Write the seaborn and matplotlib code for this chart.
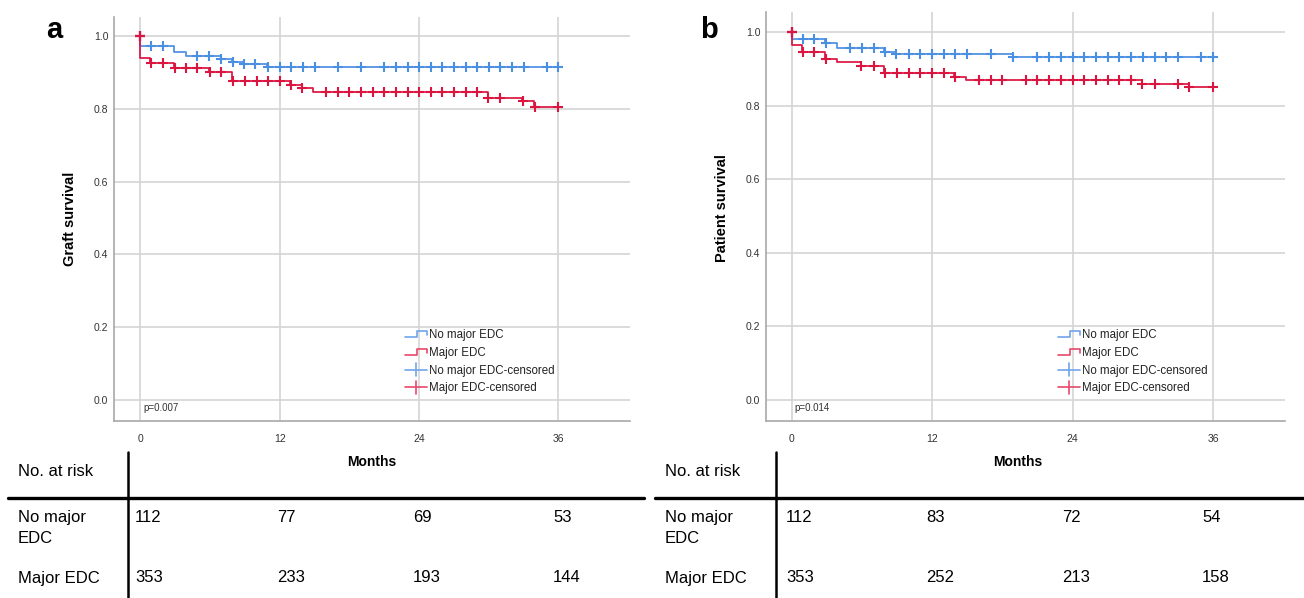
import numpy as np
import pandas as pd
import matplotlib
matplotlib.use("Agg")
import matplotlib.pyplot as plt
from matplotlib.lines import Line2D
from matplotlib.legend_handler import HandlerBase
import seaborn as sns

# ---------------- data ----------------
month_ticks = [0, 12, 24, 36]
surv_ticks = [0.0, 0.2, 0.4, 0.6, 0.8, 1.0]
group_labels = ["No major EDC", "Major EDC"]

# Graft survival (panel a): event times (months) and survival after each step
graft_nomajor_t = [0, 2.9, 3.9, 6.9, 7.9, 8.9, 10.9]
graft_nomajor_s = [0.973, 0.955, 0.945, 0.937, 0.928, 0.922, 0.916]
graft_nomajor_cens = [0.9, 1.9, 4.9, 5.9, 6.95, 7.95, 8.95, 9.9, 11, 12, 13, 14, 15,
                      17, 19, 21, 22, 23, 24, 25, 26, 27, 28, 29, 30, 31, 32, 33, 35, 36]
graft_major_t = [0, 0.85, 2.9, 5.9, 7.9, 12.9, 13.9, 14.9, 29.9, 32.9, 33.9]
graft_major_s = [0.939, 0.925, 0.913, 0.902, 0.877, 0.866, 0.857, 0.847, 0.829, 0.820, 0.805]
graft_major_cens = [0.9, 1.9, 2.95, 3.9, 4.9, 5.95, 6.9, 7.95, 9, 10, 11, 12, 13, 13.95,
                    16, 17, 18, 19, 20, 21, 22, 23, 24, 25, 26, 27, 28, 29, 29.95, 31,
                    32.95, 33.95, 36]

# Patient survival (panel b)
patient_nomajor_t = [0, 2.9, 3.9, 7.9, 8.9, 18.9]
patient_nomajor_s = [0.980, 0.971, 0.955, 0.945, 0.939, 0.932]
patient_nomajor_cens = [0.95, 1.95, 2.95, 5, 6, 7, 7.95, 8.95, 10, 11, 12, 13, 14, 15, 17,
                        18.95, 21, 22, 23, 24, 25, 26, 27, 28, 29, 30, 31, 32, 33, 35, 36]
patient_major_t = [0, 0.9, 2.9, 3.9, 5.9, 7.9, 13.9, 14.9, 29.9, 33.9]
patient_major_s = [0.964, 0.944, 0.927, 0.918, 0.907, 0.888, 0.877, 0.868, 0.859, 0.850]
patient_major_cens = [0.95, 1.95, 2.95, 5.95, 7, 7.95, 9, 10, 11, 12, 13, 13.95, 16, 17, 18,
                      20, 21, 22, 23, 24, 25, 26, 27, 28, 29, 29.95, 31, 33, 33.95, 36]

# Numbers at risk at 0, 12, 24, 36 months
graft_risk_nomajor = [112, 77, 69, 53]
graft_risk_major = [353, 233, 193, 144]
patient_risk_nomajor = [112, 83, 72, 54]
patient_risk_major = [353, 252, 213, 158]

p_graft = "p=0.007"
p_patient = "p=0.014"

# ---------------- style ----------------
sns.set_theme(style="white")
plt.rcParams["font.family"] = ["Liberation Sans", "DejaVu Sans"]
plt.rcParams["text.color"] = "black"

BLUE = "#4b8fe3"
RED = "#dc1440"
BLUE_L = "#6fa5ec"
RED_L = "#e8486a"
GRID = "#d4d4d4"
SPINE = "#a8a8a8"

W, H = 1304, 598
fig = plt.figure(figsize=(W / 100, H / 100), dpi=100)


def fx(px):
    return px / W


def fy(py):
    return 1 - py / H


def step_frame(times, surv, t_end):
    x = [0.0] + list(times) + [t_end]
    y = [1.0] + list(surv) + [surv[-1]]
    return pd.DataFrame({"month": x, "survival": y})


def censor_frame(times, surv, cens):
    t = np.asarray(times)
    s = np.asarray(surv)
    ys = []
    for c in cens:
        i = np.searchsorted(t, c, side="right") - 1
        ys.append(1.0 if i < 0 else s[i])
    return pd.DataFrame({"month": cens, "survival": ys})


class StepHandler(HandlerBase):
    def create_artists(self, legend, orig_handle, xdescent, ydescent,
                       width, height, fontsize, trans):
        x0, x1 = -xdescent, -xdescent + width
        xm = x0 + 0.55 * width
        lo, hi = -ydescent + 0.15 * height, -ydescent + 0.85 * height
        ln = Line2D([x0, xm, xm, x1, x1], [lo, lo, hi, hi, lo + 0.25 * height],
                    color=orig_handle.get_color(), lw=1.2, transform=trans)
        return [ln]


class CrossHandler(HandlerBase):
    def create_artists(self, legend, orig_handle, xdescent, ydescent,
                       width, height, fontsize, trans):
        x0, x1 = -xdescent, -xdescent + width
        xc = (x0 + x1) / 2
        yc = -ydescent + 0.5 * height
        h = Line2D([x0, x1], [yc, yc], color=orig_handle.get_color(), lw=1.2,
                   transform=trans)
        v = Line2D([xc, xc], [yc - 0.75 * height, yc + 0.75 * height],
                   color=orig_handle.get_color(), lw=1.2, transform=trans)
        return [h, v]


def km_panel(rect, xlim, ylim, groups, ylabel, ylabel_pos, pval, legend_anchor):
    ax = fig.add_axes(rect)
    for times, surv, cens, col in groups:
        sns.lineplot(data=step_frame(times, surv, 36), x="month", y="survival",
                     estimator=None, sort=False, drawstyle="steps-post",
                     color=col, lw=1.25, ax=ax, zorder=3)
    for times, surv, cens, col in groups:
        sns.scatterplot(data=censor_frame(times, surv, cens), x="month", y="survival",
                        marker="+", s=45, linewidth=1.5, color=col, ax=ax, zorder=4)
    # starting point of both curves
    for times, surv, cens, col in groups:
        sns.scatterplot(x=[0], y=[1.0], marker="+", s=50, linewidth=1.6,
                        color=col, ax=ax, zorder=5)

    ax.set_xlim(*xlim)
    ax.set_ylim(*ylim)
    ax.set_xticks(month_ticks)
    ax.set_yticks(surv_ticks)
    ax.set_yticklabels([f"{v:.1f}" for v in surv_ticks])
    ax.grid(True, color=GRID, lw=1.2)
    ax.set_axisbelow(True)
    for side in ("top", "right"):
        ax.spines[side].set_visible(False)
    for side in ("left", "bottom"):
        ax.spines[side].set_color(SPINE)
        ax.spines[side].set_linewidth(1.2)
    ax.tick_params(axis="both", length=0, labelsize=7.5, colors="#333333")
    ax.tick_params(axis="y", pad=4)
    ax.tick_params(axis="x", pad=9)
    ax.set_xlabel("")
    ax.set_ylabel(ylabel, fontsize=10.5, fontweight="bold", color="black")
    ax.yaxis.set_label_coords(*ylabel_pos)
    ax.text(0.25, -0.022, pval, fontsize=7, color="#333333", va="center", ha="left")

    handles = [Line2D([], [], color=BLUE_L), Line2D([], [], color=RED_L),
               Line2D([], [], color=BLUE_L, marker="+"),
               Line2D([], [], color=RED_L, marker="+")]
    labels = [group_labels[0], group_labels[1],
              group_labels[0] + "-censored", group_labels[1] + "-censored"]
    hmap = {handles[0]: StepHandler(), handles[1]: StepHandler(),
            handles[2]: CrossHandler(), handles[3]: CrossHandler()}
    leg = ax.legend(handles, labels, handler_map=hmap, loc="upper left",
                    bbox_to_anchor=legend_anchor, bbox_transform=fig.transFigure,
                    frameon=False, fontsize=8.3, handlelength=1.9, handleheight=0.8,
                    handletextpad=0.2, labelspacing=0.5, borderpad=0, borderaxespad=0)
    for t in leg.get_texts():
        t.set_color("#222222")
    return ax


# ---- panel a ----
ax_a = km_panel(
    [fx(114), fy(421), (630 - 114) / W, (421 - 17) / H],
    (-2.28, 42.16), (-0.0577, 1.052),
    [(graft_nomajor_t, graft_nomajor_s, graft_nomajor_cens, BLUE),
     (graft_major_t, graft_major_s, graft_major_cens, RED)],
    "Graft survival", (-0.072, 0.50), p_graft, (fx(405), fy(329)))

# ---- panel b ----
ax_b = km_panel(
    [fx(766), fy(421), (1285 - 766) / W, (421 - 12) / H],
    (-2.18, 42.14), (-0.057, 1.054),
    [(patient_nomajor_t, patient_nomajor_s, patient_nomajor_cens, BLUE),
     (patient_major_t, patient_major_s, patient_major_cens, RED)],
    "Patient survival", (-0.071, 0.52), p_patient, (fx(1058), fy(329)))

fig.text(fx(54), fy(38), "a", fontsize=21, fontweight="bold", ha="center", va="baseline")
fig.text(fx(709), fy(38), "b", fontsize=21, fontweight="bold", ha="center", va="baseline")


# ---------------- numbers-at-risk tables ----------------
def risk_table(x_left, x_right, x_vline, x_months, num_x, risk_rows):
    fig.text(fx(x_left + 10), fy(472), "No. at risk", fontsize=12, va="center", ha="left")
    fig.text(fx(x_months), fy(462), "Months", fontsize=10, fontweight="bold",
             va="center", ha="center")
    fig.add_artist(Line2D([fx(x_vline), fx(x_vline)], [fy(452), fy(598)],
                          color="black", lw=1.8, transform=fig.transFigure))
    fig.add_artist(Line2D([fx(x_left), fx(x_right)], [fy(498), fy(498)],
                          color="black", lw=2.4, transform=fig.transFigure))
    fig.text(fx(x_left + 10), fy(528), "No major\nEDC", fontsize=12, va="center",
             ha="left", linespacing=1.45)
    fig.text(fx(x_left + 10), fy(578), "Major EDC", fontsize=12, va="center", ha="left")
    for xv, a_val, b_val in zip(num_x, risk_rows[0], risk_rows[1]):
        fig.text(fx(xv), fy(518), str(a_val), fontsize=12, va="center", ha="left")
        fig.text(fx(xv), fy(578), str(b_val), fontsize=12, va="center", ha="left")


risk_table(8, 644, 128, 372, [135, 277, 413, 553],
           (graft_risk_nomajor, graft_risk_major))
risk_table(655, 1304, 776, 1018, [786, 926, 1062, 1202],
           (patient_risk_nomajor, patient_risk_major))

fig.savefig("out.png", dpi=100, facecolor="white")
